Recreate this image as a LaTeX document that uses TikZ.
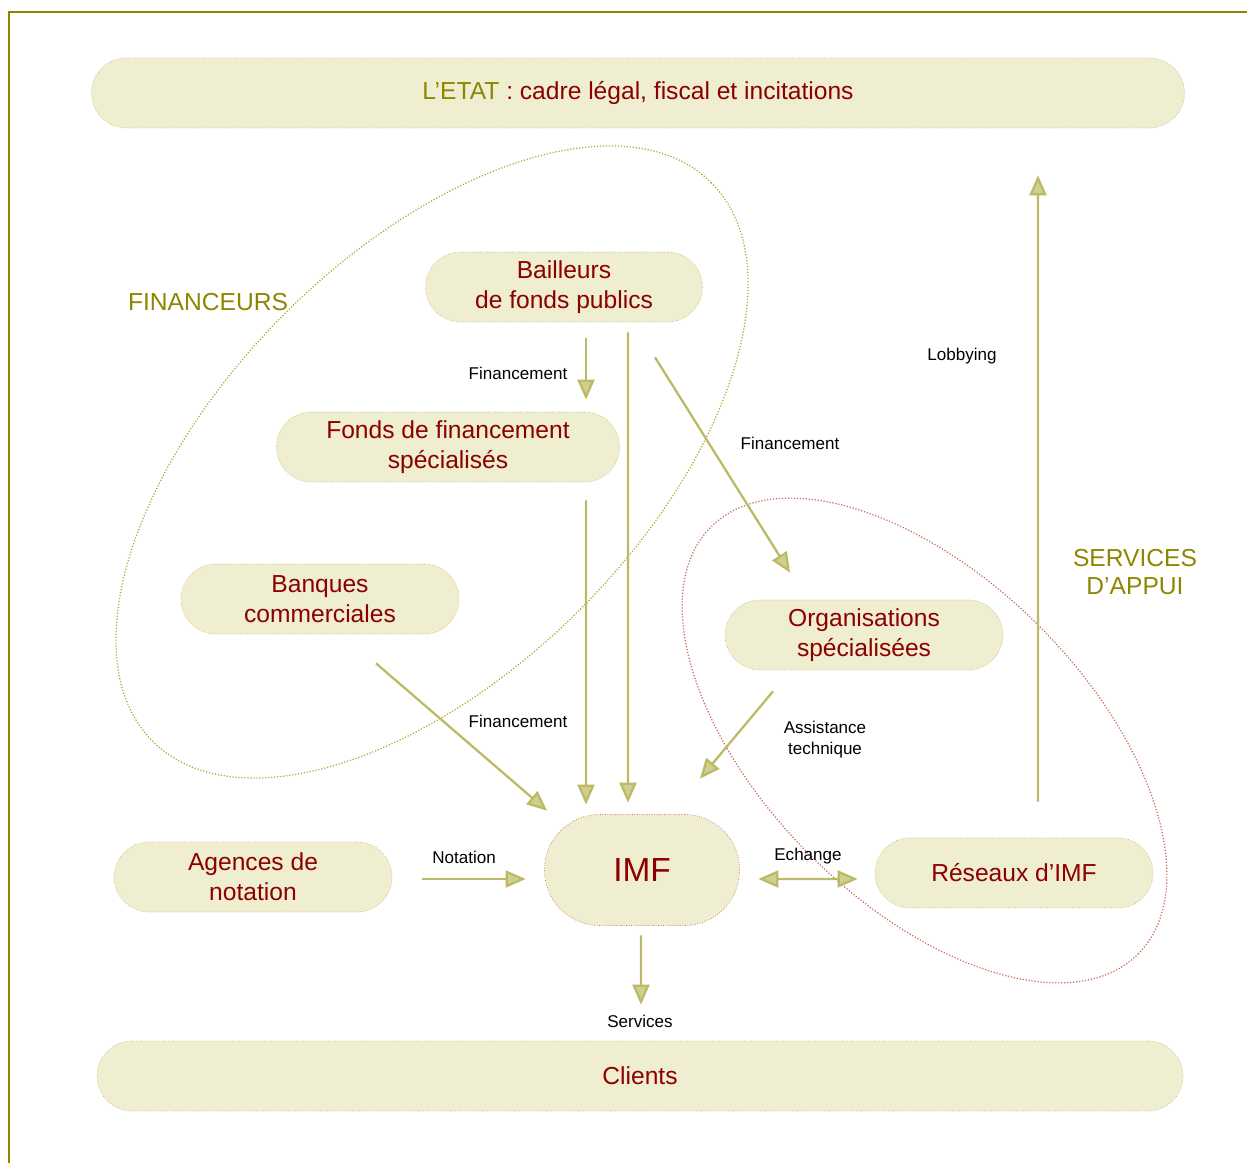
\documentclass[tikz,border=0pt]{standalone}
\usepackage{fontspec}
\setmainfont{Liberation Sans}
\usepackage{xcolor}
\usepackage{tikz}
\usetikzlibrary{arrows.meta,calc}

\definecolor{fond}{RGB}{240,238,208}
\definecolor{rouge}{RGB}{140,0,0}
\definecolor{bord}{RGB}{190,186,110}
\definecolor{trait}{RGB}{188,186,100}
\definecolor{brique}{RGB}{200,112,92}

\tikzset{
  boite/.style={draw=bord, densely dotted, fill=fond, rounded corners=0.7cm,
    minimum height=1.4cm, align=center, text=rouge,
    font=\fontsize{14}{17}\selectfont},
  fleche/.style={draw=trait, line width=1.3pt,
    -{Triangle[length=0.4cm,width=0.34cm,fill=fond!40!trait]}},
  double fleche/.style={draw=trait, line width=1.3pt,
    {Triangle[length=0.4cm,width=0.34cm,fill=fond!40!trait]}-{Triangle[length=0.4cm,width=0.34cm,fill=fond!40!trait]}},
  etiquette/.style={font=\fontsize{9.7}{12}\selectfont, align=center},
  groupe/.style={text=olive, font=\fontsize{14}{16}\selectfont, align=center}
}

\begin{document}
\begin{tikzpicture}
                \useasboundingbox (0,0) rectangle (24.94,23.26);
                % 外框
                \draw[olive, line width=1.1pt] (0.18,0) -- (0.18,23.02) -- (24.94,23.02);

                % 两个分组椭圆
                \draw[olive!70, densely dotted, line width=0.7pt, rotate around={45:(8.64,14.02)}] (8.64,14.02) ellipse [x radius=7.90, y radius=4.18];
                \draw[brique, densely dotted, line width=0.7pt, rotate around={-45:(18.49,8.45)}] (18.49,8.45) ellipse [x radius=6.04, y radius=3.24];

                % 方框
                \node[boite, minimum width=21.86cm] (etat) at (12.76,21.40) {{\color{olive}L’ETAT} : cadre légal, fiscal et incitations};
                \node[boite, minimum width=5.54cm] (bailleurs) at (11.28,17.52) {Bailleurs\\de fonds publics};
                \node[boite, minimum width=6.86cm] (fonds) at (8.96,14.32) {Fonds de financement\\spécialisés};
                \node[boite, minimum width=5.56cm] (banques) at (6.40,11.28) {Banques\\commerciales};
                \node[boite, minimum width=5.56cm] (orga) at (17.28,10.56) {Organisations\\spécialisées};
                \node[boite, minimum width=5.56cm] (agences) at (5.06,5.72) {Agences de\\notation};
                \node[boite, draw=brique, minimum width=3.9cm, minimum height=2.22cm, rounded corners=1.1cm, font=\fontsize{19}{22}\selectfont] (imf) at (12.84,5.86) {IMF};
                \node[boite, minimum width=5.56cm] (reseaux) at (20.28,5.80) {Réseaux d’IMF};
                \node[boite, minimum width=21.72cm] (clients) at (12.80,1.74) {Clients};

                % 分组标题
                \node[groupe] (financeurs) at (4.16,17.22) {FINANCEURS};
                \node[groupe] (appui) at (22.70,11.82) {SERVICES\\D’APPUI};

                % 箭头标签
                \node[etiquette] (fin1) at (10.36,15.80) {Financement};
                \node[etiquette] (fin2) at (15.80,14.40) {Financement};
                \node[etiquette] (fin3) at (10.36,8.84) {Financement};
                \node[etiquette] (lobby) at (19.24,16.14) {Lobbying};
                \node[etiquette] (assist) at (16.50,8.46) {Assistance\\technique};
                \node[etiquette] (notation) at (9.28,6.12) {Notation};
                \node[etiquette] (echange) at (16.16,6.14) {Echange};
                \node[etiquette] (services) at (12.80,2.84) {Services};

                % 箭头
                \draw[fleche] ($(bailleurs.south)+(0.44,-0.32)$) -- ($(fonds.north)+(2.76,0.24)$);
                \draw[fleche] ($(bailleurs.south)+(1.28,-0.20)$) -- ($(imf.north)+(-0.28,0.23)$);
                \draw[fleche] ($(bailleurs.south)+(1.82,-0.70)$) -- ($(orga.north)+(-1.48,0.54)$);
                \draw[fleche] ($(fonds.south)+(2.76,-0.36)$) -- ($(imf.north)+(-1.12,0.19)$);
                \draw[fleche] ($(banques.south)+(1.12,-0.58)$) -- ($(imf.north)+(-1.90,0.07)$);
                \draw[fleche] ($(orga.south)+(-1.82,-0.42)$) -- ($(imf.north)+(1.16,0.71)$);
                \draw[fleche] ($(agences.east)+(0.60,-0.04)$) -- ($(imf.west)+(-0.37,-0.18)$);
                \draw[double fleche] ($(imf.east)+(0.37,-0.18)$) -- ($(reseaux.west)+(-0.34,-0.12)$);
                \draw[fleche] ($(reseaux.north)+(0.48,0.72)$) -- ($(etat.south)+(8.00,-0.94)$);
                \draw[fleche] ($(imf.south)+(-0.02,-0.19)$) -- ($(clients.north)+(0.02,0.72)$);
\end{tikzpicture}
\end{document}
